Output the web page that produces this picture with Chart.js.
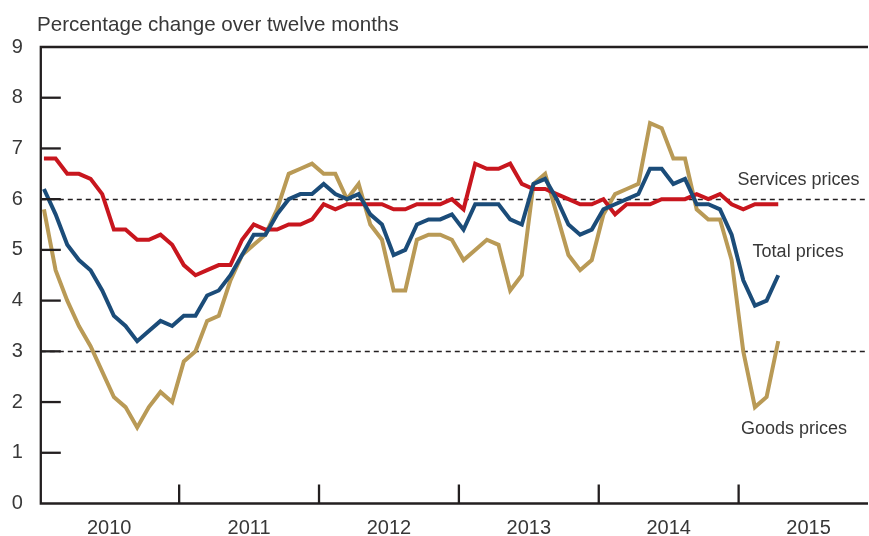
<!DOCTYPE html>
<html>
<head>
<meta charset="utf-8">
<script src="https://cdn.jsdelivr.net/npm/chart.js@4.4.1/dist/chart.umd.min.js"></script>
<style>
  html, body { margin: 0; padding: 0; background: #fff; }
  #wrap { position: relative; width: 869px; height: 536px; }
</style>
</head>
<body>
<div id="wrap"><canvas id="priceChart"></canvas></div>
<script>
// 12-month % change, monthly Jan 2010 - Apr 2015 (64 obs)
const servicesPrices = [
  6.8, 6.8, 6.5, 6.5, 6.4, 6.1, 5.4, 5.4, 5.2, 5.2, 5.3, 5.1,
  4.7, 4.5, 4.6, 4.7, 4.7, 5.2, 5.5, 5.4, 5.4, 5.5, 5.5, 5.6,
  5.9, 5.8, 5.9, 5.9, 5.9, 5.9, 5.8, 5.8, 5.9, 5.9, 5.9, 6.0,
  5.8, 6.7, 6.6, 6.6, 6.7, 6.3, 6.2, 6.2, 6.1, 6.0, 5.9, 5.9,
  6.0, 5.7, 5.9, 5.9, 5.9, 6.0, 6.0, 6.0, 6.1, 6.0, 6.1, 5.9,
  5.8, 5.9, 5.9, 5.9
];
const totalPrices = [
  6.2, 5.7, 5.1, 4.8, 4.6, 4.2, 3.7, 3.5, 3.2, 3.4, 3.6, 3.5,
  3.7, 3.7, 4.1, 4.2, 4.5, 4.9, 5.3, 5.3, 5.7, 6.0, 6.1, 6.1,
  6.3, 6.1, 6.0, 6.1, 5.7, 5.5, 4.9, 5.0, 5.5, 5.6, 5.6, 5.7,
  5.4, 5.9, 5.9, 5.9, 5.6, 5.5, 6.3, 6.4, 6.0, 5.5, 5.3, 5.4,
  5.8, 5.9, 6.0, 6.1, 6.6, 6.6, 6.3, 6.4, 5.9, 5.9, 5.8, 5.3,
  4.4, 3.9, 4.0, 4.5
];
const goodsPrices = [
  5.8, 4.6, 4.0, 3.5, 3.1, 2.6, 2.1, 1.9, 1.5, 1.9, 2.2, 2.0,
  2.8, 3.0, 3.6, 3.7, 4.4, 4.9, 5.1, 5.3, 5.8, 6.5, 6.6, 6.7,
  6.5, 6.5, 6.0, 6.3, 5.5, 5.2, 4.2, 4.2, 5.2, 5.3, 5.3, 5.2,
  4.8, 5.0, 5.2, 5.1, 4.2, 4.5, 6.3, 6.5, 5.7, 4.9, 4.6, 4.8,
  5.7, 6.1, 6.2, 6.3, 7.5, 7.4, 6.8, 6.8, 5.8, 5.6, 5.6, 4.8,
  3.0, 1.9, 2.1, 3.2
];

const yearLabels = ['2010', '2011', '2012', '2013', '2014', '2015'];
const yearLabelPos = [5.6, 17.6, 29.6, 41.6, 53.6, 65.6];   // middle of each year (month index)
const yearBounds = [11.6, 23.6, 35.6, 47.6, 59.6];          // year separators
const refLines = [3, 6];                                     // dashed reference levels

const INK = '#231f20';
const TXT = '#383838';
const FONT = '"Liberation Sans", Arial, sans-serif';

// own axis lines, inner ticks and labels
const framePlugin = {
  id: 'frame',
  beforeDatasetsDraw(chart) {
    const { ctx, chartArea: a, scales: { y } } = chart;
    ctx.save();
    ctx.strokeStyle = INK;
    ctx.lineWidth = 1.3;
    ctx.setLineDash([5, 4]);
    refLines.forEach(v => {
      const py = Math.round(y.getPixelForValue(v)) + 0.5;
      ctx.beginPath();
      ctx.moveTo(a.left, py);
      ctx.lineTo(a.right, py);
      ctx.stroke();
    });
    ctx.restore();
  },
  afterDatasetsDraw(chart) {
    const { ctx, chartArea: a, scales: { x, y } } = chart;
    ctx.save();
    ctx.strokeStyle = INK;
    ctx.lineWidth = 2.3;
    ctx.lineCap = 'butt';

    // frame: top, left, bottom
    ctx.beginPath();
    ctx.moveTo(a.right, a.top);
    ctx.lineTo(a.left, a.top);
    ctx.lineTo(a.left, a.bottom);
    ctx.lineTo(a.right, a.bottom);
    ctx.stroke();

    // y ticks inside the plot
    for (let v = 1; v <= 8; v++) {
      const py = y.getPixelForValue(v);
      ctx.beginPath();
      ctx.moveTo(a.left, py);
      ctx.lineTo(a.left + 20, py);
      ctx.stroke();
    }
    // year separators
    yearBounds.forEach(v => {
      const px = x.getPixelForValue(v);
      ctx.beginPath();
      ctx.moveTo(px, a.bottom);
      ctx.lineTo(px, a.bottom - 19);
      ctx.stroke();
    });

    // title
    ctx.fillStyle = TXT;
    ctx.font = '20.6px ' + FONT;
    ctx.textAlign = 'left';
    ctx.textBaseline = 'alphabetic';
    ctx.fillText('Percentage change over twelve months', 37, 31);

    // series names
    ctx.font = '18px ' + FONT;
    ctx.fillText('Services prices', x.getPixelForValue(59.5), y.getPixelForValue(6.27));
    ctx.fillText('Total prices', x.getPixelForValue(60.8), y.getPixelForValue(4.85));
    ctx.fillText('Goods prices', x.getPixelForValue(59.8), y.getPixelForValue(1.37));
    ctx.restore();
  }
};

const toPoints = arr => arr.map((v, i) => ({ x: i, y: v }));

new Chart(document.getElementById('priceChart'), {
  type: 'line',
  data: {
    datasets: [
      { label: 'Total prices', data: toPoints(totalPrices), borderColor: '#1b4c79' },
      { label: 'Services prices', data: toPoints(servicesPrices), borderColor: '#c8161e' },
      { label: 'Goods prices', data: toPoints(goodsPrices), borderColor: '#b99a56' }
    ]
  },
  options: {
    responsive: true,
    maintainAspectRatio: false,
    animation: false,
    layout: { padding: { top: 47, right: 1, left: 0, bottom: 0 } },
    elements: {
      line: { borderWidth: 4, tension: 0, fill: false },
      point: { radius: 0, hoverRadius: 0 }
    },
    plugins: {
      legend: { display: false },
      tooltip: { enabled: false }
    },
    scales: {
      x: {
        type: 'linear',
        min: -0.27,
        max: 70.7,
        grid: { display: false, drawTicks: false },
        border: { display: false },
        afterBuildTicks: scale => { scale.ticks = yearLabelPos.map(v => ({ value: v })); },
        afterFit: scale => { scale.height = 32.5; },
        ticks: {
          autoSkip: false,
          maxRotation: 0,
          padding: 13,
          color: TXT,
          font: { family: FONT, size: 20 },
          callback: (val, idx) => yearLabels[idx]
        }
      },
      y: {
        min: 0,
        max: 9,
        grid: { display: false, drawTicks: false },
        border: { display: false },
        afterFit: scale => { scale.width = 40.8; },
        ticks: {
          stepSize: 1,
          padding: 18,
          color: TXT,
          font: { family: FONT, size: 20 }
        }
      }
    }
  },
  plugins: [framePlugin]
});
</script>
</body>
</html>
